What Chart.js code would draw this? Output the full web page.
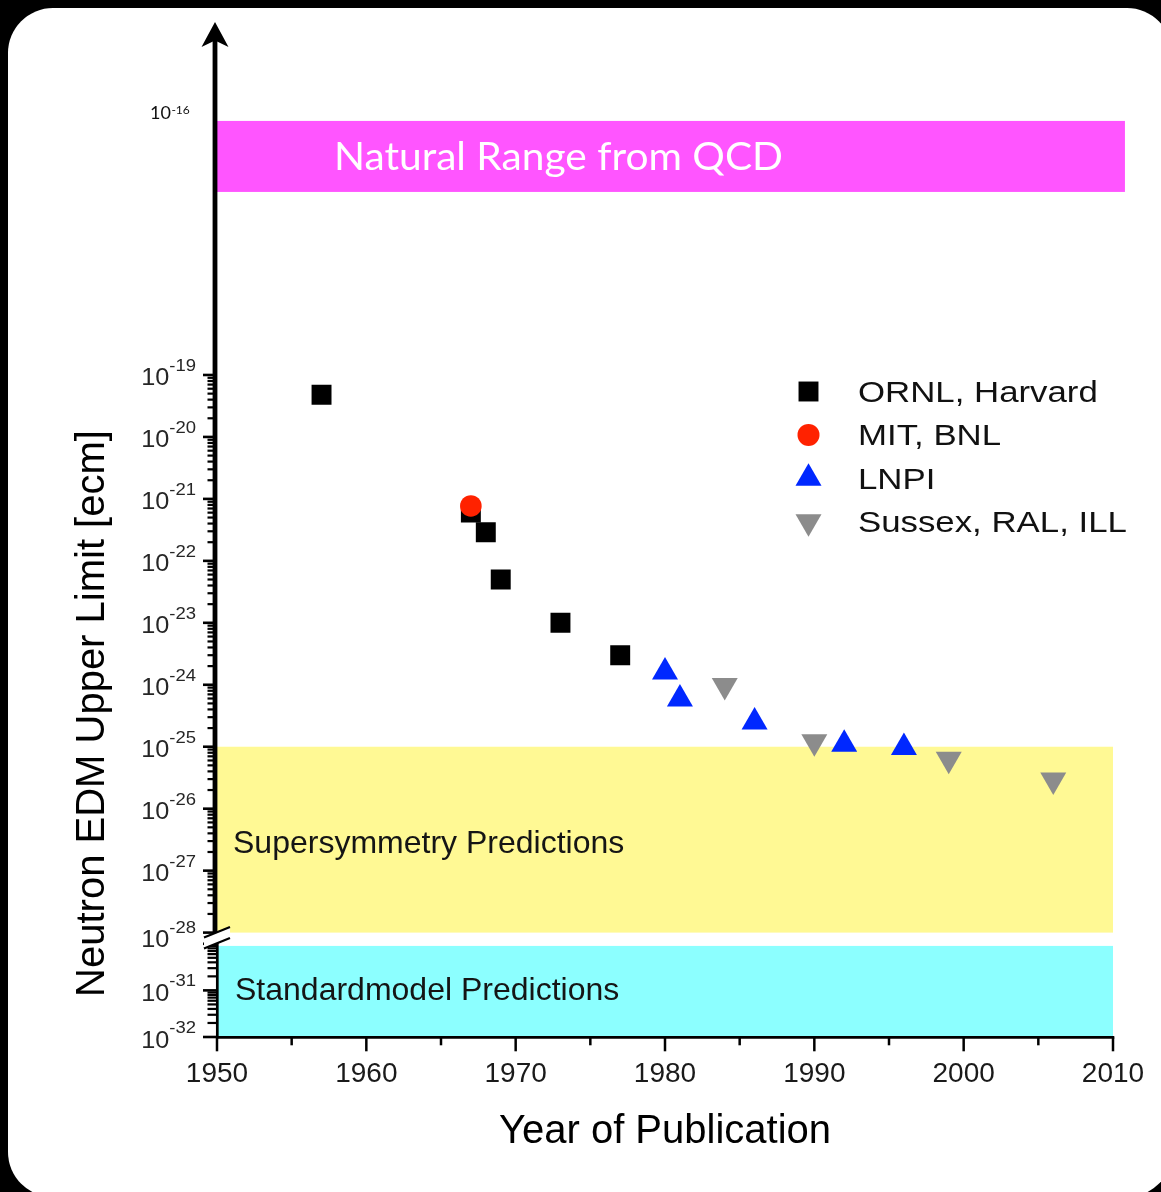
<!DOCTYPE html>
<html>
<head>
<meta charset="utf-8">
<style>
html,body{margin:0;padding:0;background:#000;}
canvas{display:block;}
</style>
<script src="https://cdn.jsdelivr.net/npm/chart.js@4.4.1/dist/chart.umd.min.js"></script>
</head>
<body>
<canvas id="c" width="1161" height="1192"></canvas>
<script>
// ---------------- data ----------------
const ornlYears  = [1957, 1967, 1968, 1969, 1973, 1977];
const ornlLimits = [4.8e-20, 6.0e-22, 2.9e-22, 5.0e-23, 1.0e-23, 3.0e-24];
const mitYears   = [1967];
const mitLimits  = [7.7e-22];
const lnpiYears  = [1980, 1981, 1986, 1992, 1996];
const lnpiLimits = [1.6e-24, 5.9e-25, 2.5e-25, 1.1e-25, 9.7e-26];
const illYears   = [1984, 1990, 1999, 2006];
const illLimits  = [9.7e-25, 1.2e-25, 6.3e-26, 2.9e-26];

const seriesLabels = ['ORNL, Harvard', 'MIT, BNL', 'LNPI', 'Sussex, RAL, ILL'];

// prediction ranges [low, high]
const qcdRange  = [9e-17, 1.26e-15];
const susyRange = [1e-28, 1e-25];
const smRange   = [9e-31, 1e-32];
const bandYears = [1950, 2010];
const qcdYears  = [1950, 2010.8];
const bandTexts = ['Natural Range from QCD', 'Supersymmetry Predictions', 'Standardmodel Predictions'];

// axes
const xRange       = [1950, 2010];
const xLabelYears  = [1950, 1960, 1970, 1980, 1990, 2000, 2010];
const upperRange   = [1e-28, Math.pow(10, -13.303)];
const lowerRange   = [1e-32, Math.pow(10, -29.76)];
const upperDecades = [-19, -20, -21, -22, -23, -24, -25, -26, -27, -28];
const lowerDecades = [-31, -32];
const lowerTickDecades = [-30, -31, -32];
const qcdLabelExp  = '-16';
const xTitle = 'Year of Publication';
const yTitle = 'Neutron EDM Upper Limit [ecm]';

// ---------------- styles ----------------
const FONT = '"Liberation Sans", Arial, sans-serif';
const colors = { ornl:'#000000', mit:'#ff2200', lnpi:'#0028ff', ill:'#8c8c8c',
                 qcd:'#ff55ff', susy:'#fff994', sm:'#8cffff' };

function pts(xs, ys){ return xs.map((x,i)=>({x:x, y:ys[i]})); }

function buildLogTicks(majorExps, minorExps){
  const t = [];
  majorExps.forEach(e => t.push({value: Math.pow(10, e), major: true}));
  minorExps.forEach(e => { for (let m = 2; m <= 9; m++) t.push({value: m * Math.pow(10, e), major: false}); });
  return t.sort((a,b)=>a.value-b.value);
}

function stretchText(ctx, text, x, y, sx, align){
  ctx.save();
  const w = ctx.measureText(text).width * sx;
  let x0 = x;
  if (align === 'right') x0 = x - w;
  else if (align === 'center') x0 = x - w/2;
  ctx.translate(x0, y);
  ctx.scale(sx, 1);
  ctx.textAlign = 'left';
  ctx.fillText(text, 0, 0);
  ctx.restore();
  return w;
}

function drawMarker(ctx, style, rotation, radius, color, x, y){
  ctx.save();
  ctx.fillStyle = color;
  if (Chart.helpers && Chart.helpers.drawPoint){
    Chart.helpers.drawPoint(ctx, {pointStyle: style, rotation: rotation, radius: radius, borderWidth: 0}, x, y);
  } else {
    ctx.beginPath();
    if (style === 'circle') ctx.arc(x, y, radius, 0, Math.PI*2);
    else if (style === 'rect'){ const s = Math.SQRT1_2*radius; ctx.rect(x-s, y-s, 2*s, 2*s); }
    else {
      let rad = rotation*Math.PI/180;
      for (let k=0;k<3;k++){ const px = x+Math.sin(rad)*radius, py = y-Math.cos(rad)*radius; k?ctx.lineTo(px,py):ctx.moveTo(px,py); rad += 2*Math.PI/3; }
      ctx.closePath();
    }
    ctx.fill();
  }
  ctx.restore();
}

// ---------------- plugins ----------------
const framePlugin = {
  id: 'frame',
  beforeDraw(chart){
    const ctx = chart.ctx;
    ctx.save();
    ctx.fillStyle = '#000';
    ctx.fillRect(0, 0, chart.width, chart.height);
    ctx.fillStyle = '#fff';
    ctx.beginPath();
    ctx.roundRect(8, 8, 1164, 1189, 45);
    ctx.fill();
    ctx.restore();
  }
};

const bandPlugin = {
  id: 'bands',
  beforeDatasetsDraw(chart){
    const {ctx, scales} = chart;
    const xs = scales.x, yU = scales.y, yL = scales.yLow;
    const area = chart.chartArea;
    ctx.save();
    function band(years, range, sc, color){
      const x0 = xs.getPixelForValue(years[0]), x1 = xs.getPixelForValue(years[1]);
      const y0 = sc.getPixelForValue(Math.max(range[0], range[1]));
      const y1 = sc.getPixelForValue(Math.min(range[0], range[1]));
      ctx.fillStyle = color;
      ctx.fillRect(x0, y0, x1 - x0, y1 - y0);
      return {x0, x1, y0, y1};
    }
    const q = band(qcdYears, qcdRange, yU, colors.qcd);
    const s = band(bandYears, susyRange, yU, colors.susy);
    const m = band(bandYears, smRange, yL, colors.sm);

    // band texts
    ctx.fillStyle = '#fff';
    ctx.font = '39px Lato, "Open Sans", sans-serif';
    const natW = ctx.measureText(bandTexts[0]).width;
    ctx.textBaseline = 'alphabetic';
    stretchText(ctx, bandTexts[0], area.left + 117, (q.y0 + q.y1)/2 + 13.5, 449 / natW, 'left');

    ctx.fillStyle = '#151515';
    ctx.font = '32px ' + FONT;
    ctx.fillText(bandTexts[1], area.left + 16, (s.y0 + s.y1)/2 + 13.5);
    ctx.fillText(bandTexts[2], area.left + 18, (m.y0 + m.y1)/2 + 9);

    // 10^-16 label beside QCD band
    ctx.fillStyle = '#111';
    ctx.textAlign = 'left';
    ctx.font = '18px Lato, "Open Sans", sans-serif';
    ctx.fillText('10', 150, q.y0 - 2);
    const w10 = ctx.measureText('10').width;
    ctx.font = '12px Lato, "Open Sans", sans-serif';
    ctx.fillText(qcdLabelExp, 150 + w10 + 0.5, q.y0 - 6.5);
    ctx.restore();
  }
};

const axesPlugin = {
  id: 'axesDeco',
  afterDraw(chart){
    const {ctx, scales} = chart;
    const area = chart.chartArea;
    const xs = scales.x, yU = scales.y, yL = scales.yLow;
    const axX = area.left - 2;          // thick upper axis line centre
    const axLowX = area.left + 0.3;     // thin lower axis line centre
    const axY = area.bottom + 0.3;
    const breakY = yU.getPixelForValue(upperRange[0]);

    ctx.save();
    ctx.strokeStyle = '#000';
    ctx.lineCap = 'butt';

    // x axis line
    ctx.lineWidth = 2.7;
    ctx.beginPath(); ctx.moveTo(area.left - 1, axY); ctx.lineTo(area.right + 1.3, axY); ctx.stroke();
    // x ticks
    xs.ticks.forEach(t => {
      const px = xs.getPixelForValue(t.value);
      const major = xLabelYears.includes(t.value);
      ctx.lineWidth = 2.5;
      ctx.beginPath(); ctx.moveTo(px, axY); ctx.lineTo(px, axY + (major ? 14 : 8)); ctx.stroke();
    });
    // x tick labels
    ctx.fillStyle = '#1a1a1a';
    ctx.font = '28px ' + FONT;
    ctx.textAlign = 'center';
    ctx.textBaseline = 'alphabetic';
    xLabelYears.forEach(yr => ctx.fillText(String(yr), xs.getPixelForValue(yr), 1081.7));

    // lower y axis line
    ctx.lineWidth = 2.7;
    ctx.beginPath(); ctx.moveTo(axLowX, breakY); ctx.lineTo(axLowX, axY + 1); ctx.stroke();
    // thick upper axis line
    ctx.lineWidth = 4.8;
    ctx.beginPath(); ctx.moveTo(axX, area.top + 16); ctx.lineTo(axX, breakY + 2); ctx.stroke();
    // arrow head
    ctx.fillStyle = '#000';
    ctx.beginPath();
    ctx.moveTo(axX, area.top);
    ctx.lineTo(axX + 13.5, area.top + 25);
    ctx.lineTo(axX, area.top + 18.5);
    ctx.lineTo(axX - 13.5, area.top + 25);
    ctx.closePath(); ctx.fill();

    // y ticks
    function yTicks(sc, lineLeft){
      sc.ticks.forEach(t => {
        const py = sc.getPixelForValue(t.value);
        ctx.lineWidth = t.major ? 2.6 : 2.2;
        ctx.beginPath(); ctx.moveTo(t.major ? 203 : 207.5, py); ctx.lineTo(lineLeft, py); ctx.stroke();
      });
    }
    yTicks(yU, axX);
    yTicks(yL, axLowX);

    // axis break
    ctx.fillStyle = '#fff';
    ctx.beginPath();
    ctx.moveTo(204, breakY + 5); ctx.lineTo(230, breakY - 5.5);
    ctx.lineTo(230, breakY + 5.5); ctx.lineTo(204, breakY + 16);
    ctx.closePath(); ctx.fill();
    ctx.lineWidth = 2.2;
    ctx.beginPath(); ctx.moveTo(204, breakY + 5); ctx.lineTo(230, breakY - 5.5); ctx.stroke();
    ctx.beginPath(); ctx.moveTo(204, breakY + 16); ctx.lineTo(230, breakY + 5.5); ctx.stroke();

    // y tick labels 10^e
    function powLabel(sc, e, dy){
      const py = sc.getPixelForValue(Math.pow(10, e)) + dy;
      ctx.fillStyle = '#262626';
      ctx.font = '16.5px ' + FONT;
      const ew = stretchText(ctx, String(e), 196, py - 4, 1.12, 'right');
      ctx.font = '23px ' + FONT;
      stretchText(ctx, '10', 196 - ew, py + 10.5, 1.1, 'right');
    }
    upperDecades.forEach(e => powLabel(yU, e, e === -28 ? 4 : 0));
    lowerDecades.forEach(e => powLabel(yL, e, 0));

    // axis titles
    ctx.fillStyle = '#000';
    ctx.font = '40px ' + FONT;
    ctx.textAlign = 'center';
    ctx.fillText(xTitle, (area.left + area.right)/2, 1143);
    ctx.save();
    ctx.translate(103.5, 713.5);
    ctx.rotate(-Math.PI/2);
    ctx.fillText(yTitle, 0, 0);
    ctx.restore();

    // legend
    const dsets = chart.data.datasets;
    dsets.forEach((ds, row) => {
      const cy = 391.5 + row * 43.4;
      drawMarker(ctx, ds.pointStyle, ds.pointRotation || 0, ds.pointStyle === 'circle' ? 11 : ds.pointRadius, ds.pointBackgroundColor, 808.5, cy);
      ctx.fillStyle = '#111';
      ctx.font = '29px ' + FONT;
      ctx.textBaseline = 'alphabetic';
      stretchText(ctx, ds.label, 858, cy + 10.4, 1.2, 'left');
    });
    ctx.restore();
  }
};

// ---------------- chart ----------------
const chart = new Chart(document.getElementById('c'), {
  type: 'scatter',
  data: {
    datasets: [
      { label: seriesLabels[0], data: pts(ornlYears, ornlLimits), pointStyle: 'rect', pointRadius: 14.1, pointHoverRadius: 14.1,
        pointBackgroundColor: colors.ornl, pointBorderWidth: 0, pointHoverBorderWidth: 0, yAxisID: 'y', order: 1 },
      { label: seriesLabels[1], data: pts(mitYears, mitLimits), pointStyle: 'circle', pointRadius: 10.8, pointHoverRadius: 10.8,
        pointBackgroundColor: colors.mit, pointBorderWidth: 0, pointHoverBorderWidth: 0, yAxisID: 'y', order: 0 },
      { label: seriesLabels[2], data: pts(lnpiYears, lnpiLimits), pointStyle: 'triangle', pointRadius: 15, pointHoverRadius: 15,
        pointBackgroundColor: colors.lnpi, pointBorderWidth: 0, pointHoverBorderWidth: 0, yAxisID: 'y', order: 2 },
      { label: seriesLabels[3], data: pts(illYears, illLimits), pointStyle: 'triangle', pointRotation: 180, pointRadius: 15, pointHoverRadius: 15,
        pointBackgroundColor: colors.ill, pointBorderWidth: 0, pointHoverBorderWidth: 0, yAxisID: 'y', order: 3 }
    ]
  },
  options: {
    responsive: false,
    animation: false,
    events: [],
    layout: { padding: { left: 0, top: 22, right: 48, bottom: 0 } },
    plugins: { legend: { display: false }, tooltip: { enabled: false } },
    scales: {
      x: {
        type: 'linear', position: 'bottom', min: xRange[0], max: xRange[1],
        ticks: { display: false, stepSize: 5 },
        grid: { display: false }, border: { display: false },
        afterFit(s){ s.height = 155; }
      },
      yLow: {
        type: 'logarithmic', position: 'left', stack: 'v', stackWeight: 104.4,
        min: lowerRange[0], max: lowerRange[1], bounds: 'data',
        ticks: { display: false }, grid: { display: false }, border: { display: false },
        afterBuildTicks(s){ s.ticks = buildLogTicks(lowerTickDecades, [-31, -32]); },
        afterFit(s){ s.width = 217; }
      },
      y: {
        type: 'logarithmic', position: 'left', stack: 'v', stackWeight: 910.6,
        min: upperRange[0], max: upperRange[1], bounds: 'data',
        ticks: { display: false }, grid: { display: false }, border: { display: false },
        afterBuildTicks(s){ s.ticks = buildLogTicks(upperDecades, [-20,-21,-22,-23,-24,-25,-26,-27,-28]); },
        afterFit(s){ s.width = 217; }
      }
    }
  },
  plugins: [framePlugin, bandPlugin, axesPlugin]
});
</script>
</body>
</html>
